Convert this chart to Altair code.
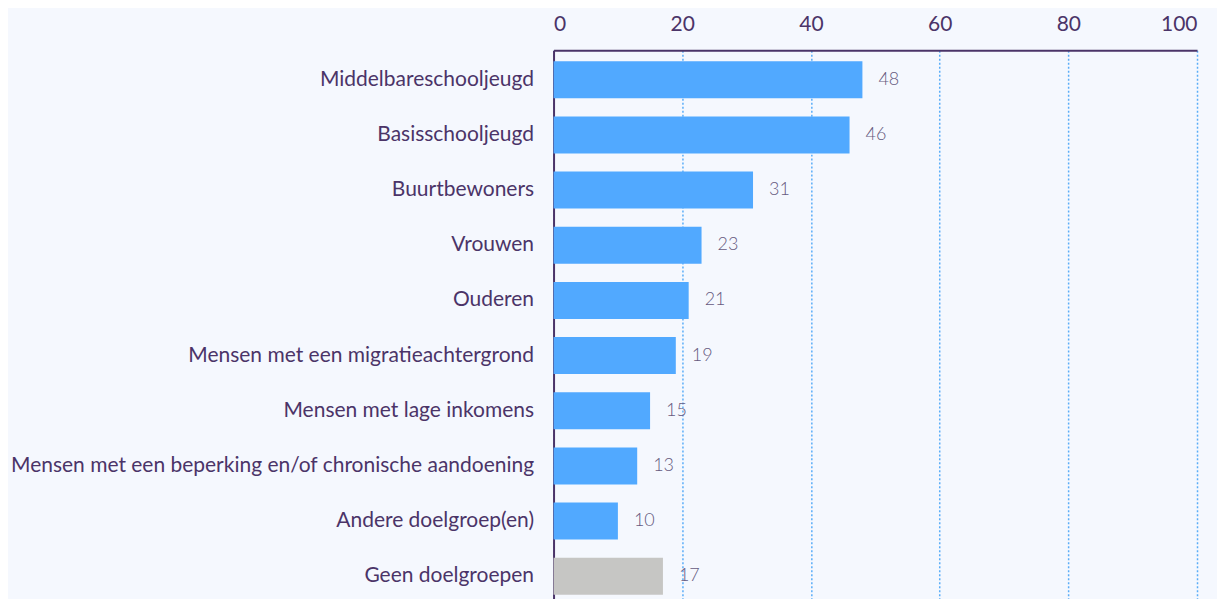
import altair as alt
import pandas as pd

categories = [
    "Middelbareschooljeugd",
    "Basisschooljeugd",
    "Buurtbewoners",
    "Vrouwen",
    "Ouderen",
    "Mensen met een migratieachtergrond",
    "Mensen met lage inkomens",
    "Mensen met een beperking en/of chronische aandoening",
    "Andere doelgroep(en)",
    "Geen doelgroepen",
]
values = [48, 46, 31, 23, 21, 19, 15, 13, 10, 17]
groups = ["doelgroep"] * 9 + ["geen"]

df = pd.DataFrame({"cat": categories, "val": values, "grp": groups})

PURPLE = "#4b3468"
FONT = "Lato"

y_enc = alt.Y("cat:N", sort=categories, title=None,
              scale=alt.Scale(paddingInner=0.33, paddingOuter=0.2),
              axis=alt.Axis(labelFontSize=21, labelColor=PURPLE, labelFont=FONT,
                            labelPadding=20, ticks=False, domain=True,
                            domainColor=PURPLE, domainWidth=2, labelLimit=700))
x_enc = alt.X("val:Q", title=None,
              scale=alt.Scale(domain=[0, 100]),
              axis=alt.Axis(orient="top", values=[0, 20, 40, 60, 80, 100],
                            labelFontSize=21, labelColor=PURPLE, labelFont=FONT,
                            labelPadding=16, ticks=False, domain=True,
                            domainColor=PURPLE, domainWidth=2,
                            grid=True, gridColor="#5aadf8", gridDash=[2, 2],
                            gridWidth=1.5))

bars = alt.Chart(df).mark_bar().encode(
    x=x_enc,
    y=y_enc,
    color=alt.Color("grp:N", scale=alt.Scale(domain=["doelgroep", "geen"],
                                             range=["#51a9ff", "#c6c6c4"]),
                    legend=None),
)

labels = alt.Chart(df).mark_text(align="left", baseline="middle", dx=16,
                                 fontSize=18, font=FONT, fontWeight=300,
                                 color="#665a7e").encode(
    x="val:Q",
    y=alt.Y("cat:N", sort=categories),
    text="val:Q",
)

chart = (bars + labels).properties(
    width=644, height=556,
    autosize=alt.AutoSizeParams(type="none"),
    padding={"left": 546, "top": 42, "right": 20, "bottom": 0},
    background="#f5f8fe",
).configure_view(stroke=None)

chart.save("out.html", embed_options={"renderer": "svg", "actions": False})
